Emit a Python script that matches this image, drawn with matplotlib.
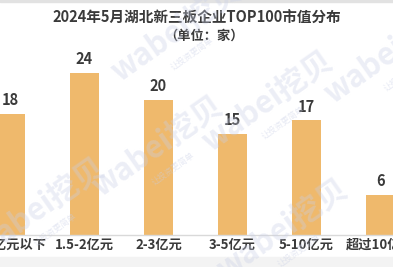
import matplotlib
matplotlib.use("Agg")
import matplotlib.pyplot as plt
from matplotlib.patches import Rectangle

plt.rcParams["font.family"] = ["Noto Sans CJK SC", "DejaVu Sans"]

categories = ["1.5亿元以下", "1.5-2亿元", "2-3亿元", "3-5亿元", "5-10亿元", "超过10亿元"]
counts = [18, 24, 20, 15, 17, 6]
title = "2024年5月湖北新三板企业TOP100市值分布"
subtitle = "（单位：家）"

bar_color = "#EFB96C"
text_color = "#3a3a3a"

fig = plt.figure(figsize=(3.93, 2.67), dpi=100)

# light frame bits from the screenshot
fig.add_artist(Rectangle((0, 0.993), 1, 0.007, transform=fig.transFigure,
                         color="#e2e2e2", zorder=0))
fig.add_artist(Rectangle((0, 0), 1, 0.036, transform=fig.transFigure,
                         color="#f3f3f3", zorder=0))

ax = fig.add_axes([0, 32 / 267, 1, 202.5 / 267])
ax.patch.set_alpha(0)

x = list(range(len(categories)))
bars = ax.bar(x, counts, width=0.39, color=bar_color, zorder=2)

for b, v in zip(bars, counts):
    ax.annotate(str(v), (b.get_x() + b.get_width() / 2, v),
                xytext=(0, 4), textcoords="offset points",
                ha="center", va="bottom", fontsize=10.5, fontweight="bold",
                color=text_color)

ax.set_xlim(-0.142, 5.169)
ax.set_ylim(0, 30)
ax.set_xticks(x)
ax.set_xticklabels(categories, fontsize=9.5, fontweight="bold", color=text_color)
ax.tick_params(axis="x", length=0, pad=2)
ax.set_yticks([])
for s in ["top", "right", "left"]:
    ax.spines[s].set_visible(False)
ax.spines["bottom"].set_color("#d9d9d9")
ax.spines["bottom"].set_linewidth(1)

fig.text(0.502, 1 - 18 / 267, title, ha="center", va="center",
         fontsize=10.5, fontweight="bold", color=text_color)
fig.text(0.52, 1 - 36 / 267, subtitle, ha="center", va="center",
         fontsize=9.5, fontweight="bold", color=text_color)

# faint watermarks
marks = [(0.45, 0.88), (0.99, 0.80), (0.40, 0.45), (0.68, 0.62),
         (0.72, 0.14), (0.10, 0.22)]
for mx, my in marks:
    fig.text(mx, my, "wabei挖贝", ha="center", va="center", rotation=35,
             fontsize=22, fontweight="bold", color="#c9cfe6", alpha=0.35,
             zorder=5)
    fig.text(mx + 0.04, my - 0.08, "让投资更简单", ha="center", va="center",
             rotation=35, fontsize=6, color="#c9cfe6", alpha=0.45, zorder=5)

fig.savefig("out.png", dpi=100)
